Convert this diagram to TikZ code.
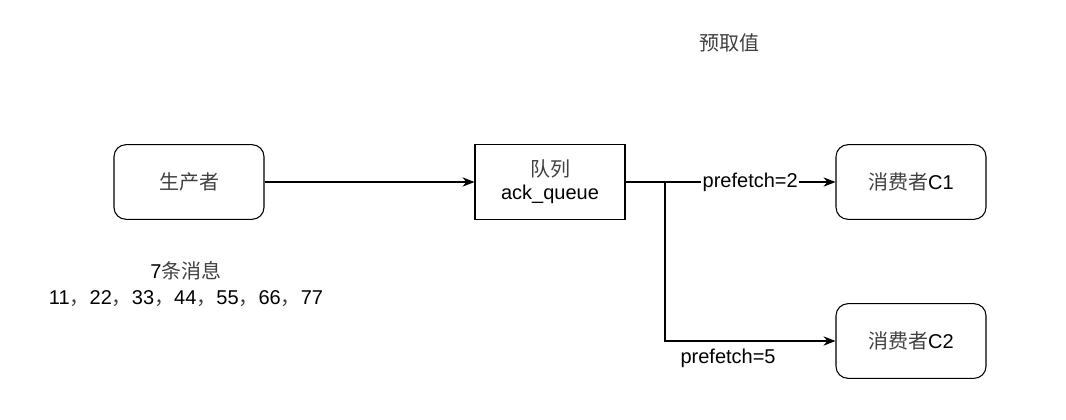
\documentclass[tikz,border=0pt]{standalone}
\usepackage{fontspec}
\setmainfont{Liberation Sans}
\newfontfamily\cjk{Noto Sans CJK SC}
\usetikzlibrary{arrows.meta}
\newcommand{\zh}[1]{{\cjk\color{black!75} #1}}

\begin{document}
\begin{tikzpicture}[x=0.75pt,y=-0.75pt]
    \tikzset{box/.style={draw,thick,minimum width=112.5pt,minimum height=56pt,align=center,font=\fontsize{15}{17.5}\selectfont},
             rbox/.style={box,rounded corners=9pt},
             txt/.style={align=center,font=\fontsize{15}{19}\selectfont},
             arr/.style={thick,-{Stealth[length=9pt,width=7pt]}}}
    \useasboundingbox (0,0) rectangle (1066,419);
    % producer, queue and the two consumers
    \node[rbox] (prod) at (189,182) {\zh{生产者}};
    \node[box] (queue) at (550,182) {\zh{队列}\\ack\_queue};
    \node[rbox] (c1) at (911,182) {\zh{消费者}C1};
    \node[rbox] (c2) at (911,341) {\zh{消费者}C2};
    \coordinate (split) at (665,182);
    \node[txt] (msgs) at (186,284) {7\zh{条消息}\\11\zh{，}22\zh{，}33\zh{，}44\zh{，}55\zh{，}66\zh{，}77};
    \node[txt] (title) at (729,43) {\zh{预取值}};
    % edges
    \draw[arr] (prod) -- (queue);
    \draw[arr] (queue.east) -- (split) -- node[txt,fill=white,inner sep=1pt]{prefetch=2} (c1);
    \draw[arr] (split) |- node[txt,pos=0.685,anchor=north,yshift=-2pt]{prefetch=5} (c2);
\end{tikzpicture}
\end{document}
